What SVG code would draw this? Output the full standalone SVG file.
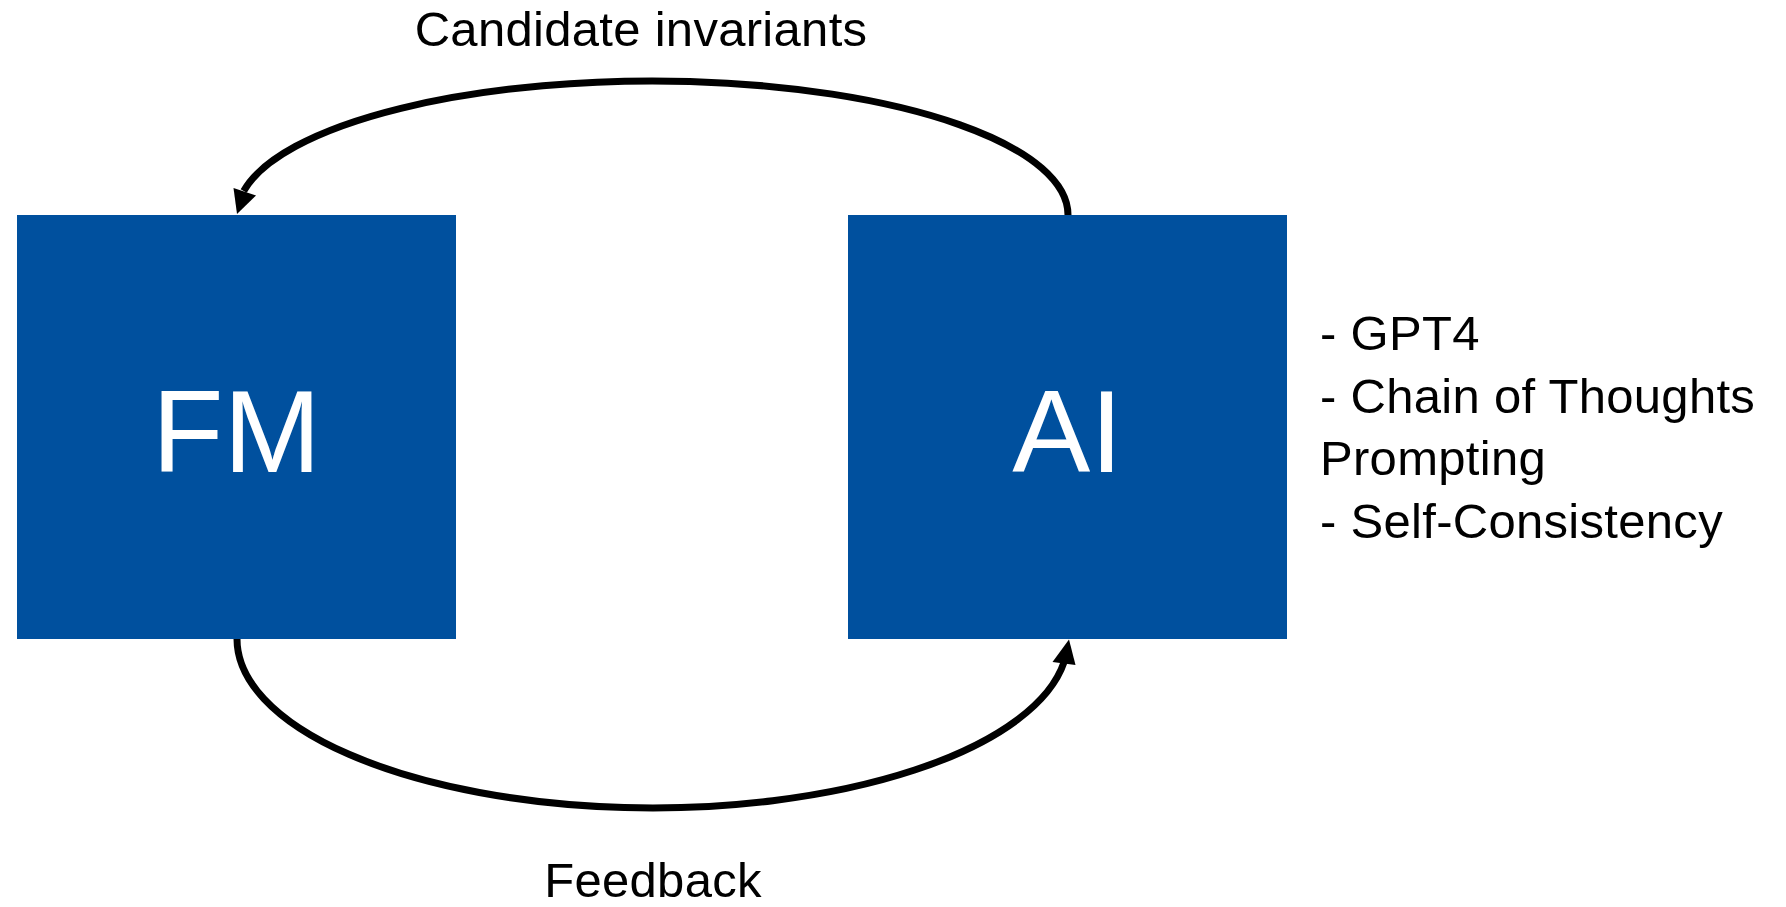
<svg xmlns="http://www.w3.org/2000/svg" width="1786" height="907" viewBox="0 0 1786 907">
  <style>
    .box { fill: #00509E; }
    .boxlabel { font-family: "Liberation Sans", Arial, sans-serif; font-size: 117px; fill: #FFFFFF; text-anchor: middle; }
    .label { font-family: "Liberation Sans", Arial, sans-serif; font-size: 49px; letter-spacing: 0.3px; fill: #000000; }
    .wire { fill: none; stroke: #000000; stroke-width: 7; }
    .head { fill: #000000; stroke: none; }
  </style>
  <rect width="1786" height="907" fill="#FFFFFF"/>

  <g id="connectors">
    <!-- AI -> FM, over the top -->
    <path class="wire" d="M 1068 215 A 415.5 134 0 0 0 243.7 191"/>
    <polygon class="head" points="233.5,188 256,195.5 237,214"/>
    <!-- FM -> AI, underneath -->
    <path class="wire" d="M 237 639 A 415.5 169 0 0 0 1064.1 662"/>
    <polygon class="head" points="1052.5,662 1075.5,665 1069,639.5"/>
  </g>

  <g id="node-fm">
    <rect class="box" x="17" y="215" width="439" height="424"/>
    <text class="boxlabel" x="236.5" y="472">FM</text>
  </g>

  <g id="node-ai">
    <rect class="box" x="848" y="215" width="439" height="424"/>
    <text class="boxlabel" x="1067.5" y="472">AI</text>
  </g>

  <g id="labels">
    <text class="label" x="641" y="46" text-anchor="middle">Candidate invariants</text>
    <text class="label" x="653" y="897" text-anchor="middle">Feedback</text>
  </g>

  <g id="ai-notes">
    <text class="label" x="1320" y="350">- GPT4</text>
    <text class="label" x="1320" y="412.5">- Chain of Thoughts</text>
    <text class="label" x="1320" y="475">Prompting</text>
    <text class="label" x="1320" y="538">- Self-Consistency</text>
  </g>
</svg>
